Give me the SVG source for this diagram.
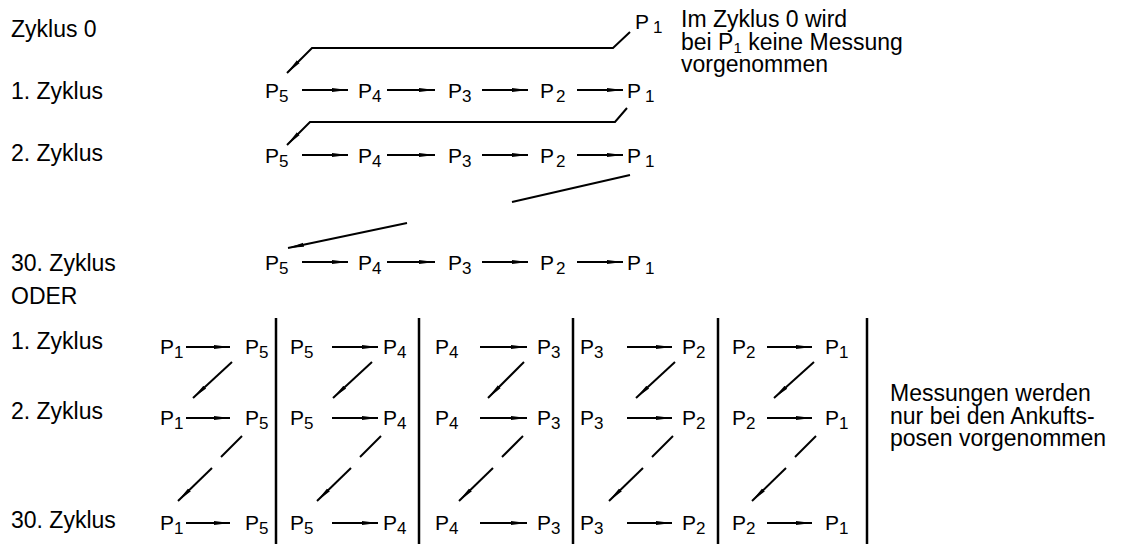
<svg xmlns="http://www.w3.org/2000/svg" width="1127" height="544" viewBox="0 0 1127 544">
<defs>
<marker id="ah" viewBox="0 0 16 6" refX="16" refY="3" markerWidth="16" markerHeight="6" markerUnits="userSpaceOnUse" orient="auto"><path d="M0,1 L16,3 L0,5 z" fill="#000"/></marker>
</defs>
<style>
.lbl{font-family:"Liberation Sans",Arial,sans-serif;font-size:23px;fill:#000}
.p{font-family:"Liberation Sans",Arial,sans-serif;font-size:21px;fill:#000}
.s{font-size:17px}
.ln{stroke:#000;stroke-width:2;fill:none}
.ar{stroke:#000;stroke-width:2;fill:none;marker-end:url(#ah)}
.vl{stroke:#000;stroke-width:2.5}
</style>
<rect width="1127" height="544" fill="#fff"/>
<g id="labels" class="lbl">
<text x="11" y="37">Zyklus 0</text>
<text x="11" y="99">1. Zyklus</text>
<text x="11" y="161">2. Zyklus</text>
<text x="11" y="271">30. Zyklus</text>
<text x="11" y="304">ODER</text>
<text x="11" y="349">1. Zyklus</text>
<text x="11" y="419">2. Zyklus</text>
<text x="11" y="528">30. Zyklus</text>
<text x="681" y="27">Im Zyklus 0 wird</text>
<text x="681" y="50">bei P<tspan font-size="15" dy="3">1</tspan><tspan dy="-3"> keine Messung</tspan></text>
<text x="681" y="72">vorgenommen</text>
<text x="890" y="401">Messungen werden</text>
<text x="890" y="424">nur bei den Ankufts-</text>
<text x="890" y="446">posen vorgenommen</text>
</g>
<g id="top-nodes" class="p">
<g id="z0-p1"><text x="635" y="29">P<tspan class="s" dx="4" dy="4">1</tspan></text></g>
<g id="z1-p5"><text x="265" y="98">P<tspan class="s" dy="4">5</tspan></text></g>
<g id="z1-p4"><text x="358" y="98">P<tspan class="s" dy="4">4</tspan></text></g>
<g id="z1-p3"><text x="448" y="98">P<tspan class="s" dy="4">3</tspan></text></g>
<g id="z1-p2"><text x="540" y="98">P<tspan class="s" dx="2" dy="4">2</tspan></text></g>
<g id="z1-p1"><text x="627" y="98">P<tspan class="s" dx="4" dy="4">1</tspan></text></g>
<g id="z2-p5"><text x="265" y="163">P<tspan class="s" dy="4">5</tspan></text></g>
<g id="z2-p4"><text x="358" y="163">P<tspan class="s" dy="4">4</tspan></text></g>
<g id="z2-p3"><text x="448" y="163">P<tspan class="s" dy="4">3</tspan></text></g>
<g id="z2-p2"><text x="540" y="163">P<tspan class="s" dx="2" dy="4">2</tspan></text></g>
<g id="z2-p1"><text x="627" y="163">P<tspan class="s" dx="4" dy="4">1</tspan></text></g>
<g id="z30-p5"><text x="265" y="270">P<tspan class="s" dy="4">5</tspan></text></g>
<g id="z30-p4"><text x="358" y="270">P<tspan class="s" dy="4">4</tspan></text></g>
<g id="z30-p3"><text x="448" y="270">P<tspan class="s" dy="4">3</tspan></text></g>
<g id="z30-p2"><text x="540" y="270">P<tspan class="s" dx="2" dy="4">2</tspan></text></g>
<g id="z30-p1"><text x="627" y="270">P<tspan class="s" dx="4" dy="4">1</tspan></text></g>
</g>
<g id="bottom-nodes" class="p">
<g id="b1-c1"><text x="160" y="354">P<tspan class="s" dy="4">1</tspan></text><text x="245" y="354">P<tspan class="s" dy="4">5</tspan></text></g>
<g id="b1-c2"><text x="290" y="354">P<tspan class="s" dy="4">5</tspan></text><text x="383" y="354">P<tspan class="s" dy="4">4</tspan></text></g>
<g id="b1-c3"><text x="435" y="354">P<tspan class="s" dy="4">4</tspan></text><text x="537" y="354">P<tspan class="s" dy="4">3</tspan></text></g>
<g id="b1-c4"><text x="580" y="354">P<tspan class="s" dy="4">3</tspan></text><text x="682" y="354">P<tspan class="s" dy="4">2</tspan></text></g>
<g id="b1-c5"><text x="732" y="354">P<tspan class="s" dy="4">2</tspan></text><text x="825" y="354">P<tspan class="s" dy="4">1</tspan></text></g>
<g id="b2-c1"><text x="160" y="425">P<tspan class="s" dy="4">1</tspan></text><text x="245" y="425">P<tspan class="s" dy="4">5</tspan></text></g>
<g id="b2-c2"><text x="290" y="425">P<tspan class="s" dy="4">5</tspan></text><text x="383" y="425">P<tspan class="s" dy="4">4</tspan></text></g>
<g id="b2-c3"><text x="435" y="425">P<tspan class="s" dy="4">4</tspan></text><text x="537" y="425">P<tspan class="s" dy="4">3</tspan></text></g>
<g id="b2-c4"><text x="580" y="425">P<tspan class="s" dy="4">3</tspan></text><text x="682" y="425">P<tspan class="s" dy="4">2</tspan></text></g>
<g id="b2-c5"><text x="732" y="425">P<tspan class="s" dy="4">2</tspan></text><text x="825" y="425">P<tspan class="s" dy="4">1</tspan></text></g>
<g id="b30-c1"><text x="160" y="530">P<tspan class="s" dy="4">1</tspan></text><text x="245" y="530">P<tspan class="s" dy="4">5</tspan></text></g>
<g id="b30-c2"><text x="290" y="530">P<tspan class="s" dy="4">5</tspan></text><text x="383" y="530">P<tspan class="s" dy="4">4</tspan></text></g>
<g id="b30-c3"><text x="435" y="530">P<tspan class="s" dy="4">4</tspan></text><text x="537" y="530">P<tspan class="s" dy="4">3</tspan></text></g>
<g id="b30-c4"><text x="580" y="530">P<tspan class="s" dy="4">3</tspan></text><text x="682" y="530">P<tspan class="s" dy="4">2</tspan></text></g>
<g id="b30-c5"><text x="732" y="530">P<tspan class="s" dy="4">2</tspan></text><text x="825" y="530">P<tspan class="s" dy="4">1</tspan></text></g>
</g>
<g id="connectors">
<path class="ar" d="M630,32 L613,48 L312,48 L287,73"/>
<path class="ar" d="M627,108 L615,122 L310,122 L287,145"/>
<path class="ln" d="M630,175 L512,202"/>
<path class="ar" d="M407,223 L288,248"/>
<line class="ar" x1="302" y1="90" x2="348" y2="90"/>
<line class="ar" x1="387" y1="90" x2="435" y2="90"/>
<line class="ar" x1="482" y1="90" x2="528" y2="90"/>
<line class="ar" x1="577" y1="90" x2="623" y2="90"/>
<line class="ar" x1="302" y1="155" x2="348" y2="155"/>
<line class="ar" x1="387" y1="155" x2="435" y2="155"/>
<line class="ar" x1="482" y1="155" x2="528" y2="155"/>
<line class="ar" x1="577" y1="155" x2="623" y2="155"/>
<line class="ar" x1="302" y1="262" x2="348" y2="262"/>
<line class="ar" x1="387" y1="262" x2="435" y2="262"/>
<line class="ar" x1="482" y1="262" x2="528" y2="262"/>
<line class="ar" x1="577" y1="262" x2="623" y2="262"/>
<line class="ar" x1="186" y1="347" x2="230" y2="347"/>
<line class="ar" x1="332" y1="347" x2="378" y2="347"/>
<line class="ar" x1="480" y1="347" x2="527" y2="347"/>
<line class="ar" x1="627" y1="347" x2="672" y2="347"/>
<line class="ar" x1="767" y1="347" x2="812" y2="347"/>
<line class="ar" x1="186" y1="418" x2="230" y2="418"/>
<line class="ar" x1="332" y1="418" x2="378" y2="418"/>
<line class="ar" x1="480" y1="418" x2="527" y2="418"/>
<line class="ar" x1="627" y1="418" x2="672" y2="418"/>
<line class="ar" x1="767" y1="418" x2="812" y2="418"/>
<line class="ar" x1="186" y1="523" x2="230" y2="523"/>
<line class="ar" x1="332" y1="523" x2="378" y2="523"/>
<line class="ar" x1="480" y1="523" x2="527" y2="523"/>
<line class="ar" x1="627" y1="523" x2="672" y2="523"/>
<line class="ar" x1="767" y1="523" x2="812" y2="523"/>
<line class="ar" x1="232" y1="362" x2="193" y2="398"/>
<line class="ar" x1="372" y1="362" x2="333" y2="398"/>
<line class="ar" x1="524" y1="362" x2="488" y2="398"/>
<line class="ar" x1="675" y1="362" x2="636" y2="398"/>
<line class="ar" x1="814" y1="362" x2="774" y2="398"/>
<line class="ln" x1="242" y1="436" x2="221" y2="457"/>
<line class="ar" x1="212" y1="468" x2="178" y2="501"/>
<line class="ln" x1="381" y1="436" x2="360" y2="457"/>
<line class="ar" x1="351" y1="468" x2="317" y2="501"/>
<line class="ln" x1="523" y1="436" x2="502" y2="457"/>
<line class="ar" x1="493" y1="468" x2="459" y2="501"/>
<line class="ln" x1="673" y1="436" x2="652" y2="457"/>
<line class="ar" x1="643" y1="468" x2="609" y2="501"/>
<line class="ln" x1="816" y1="436" x2="795" y2="457"/>
<line class="ar" x1="786" y1="468" x2="752" y2="501"/>
<line class="vl" x1="276" y1="318" x2="276" y2="544"/>
<line class="vl" x1="419" y1="318" x2="419" y2="544"/>
<line class="vl" x1="573" y1="318" x2="573" y2="544"/>
<line class="vl" x1="718" y1="318" x2="718" y2="544"/>
<line class="vl" x1="867" y1="318" x2="867" y2="544"/>
</g>
</svg>
